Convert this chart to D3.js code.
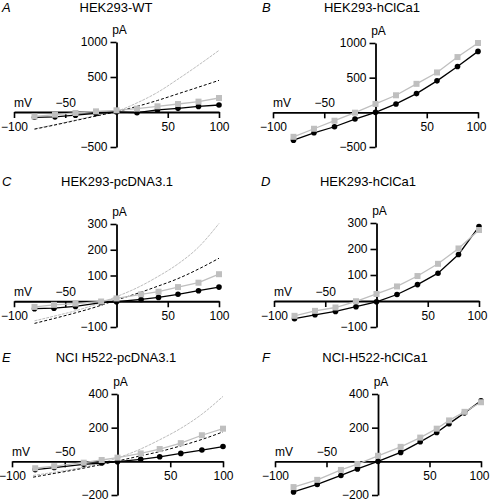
<!DOCTYPE html>
<html><head><meta charset="utf-8">
<script src="https://cdn.jsdelivr.net/npm/d3@7"></script>
<style>
html,body{margin:0;padding:0;background:#fff;}
svg{display:block;font-family:"Liberation Sans",Arial,sans-serif;}
</style></head><body>
<svg id="chart" width="492" height="503"></svg>
<script>
// ---------- data ----------
const panelLetters = ["A","B","C","D","E","F"];
const panelTitles = ["HEK293-WT","HEK293-hClCa1","HEK293-pcDNA3.1","HEK293-hClCa1","NCI H522-pcDNA3.1","NCI-H522-hClCa1"];
const xTickValues = [-100,-50,50,100];
const yTicksA = [-500,500,1000];
const yTicksB = [-500,500,1000];
const yTicksC = [-100,100,200,300];
const yTicksD = [-100,100,200,300];
const yTicksE = [-200,200,400];
const yTicksF = [-200,200,400];

// voltages (mV)
const vA = [-80,-60,-40,-20,0,20,40,60,80,100];
const vB = [-80,-60,-40,-20,0,20,40,60,80,100];
const vC = [-80,-61,-40,-15,0,24,41,60,80,100];
const vD = [-80,-60,-40,-20,0,20,40,60,80,100];
const vE = [-78,-60,-32,-15,0,22,40,60,80,100];
const vF = [-82,-59,-36,-20,0,22,41,57,69,84,100];
const vFit = [-80,-60,-40,-20,0,20,40,60,80,100];

// currents (pA): black circles / grey squares
const blackA = [-75,-69,-45,-20,0,-10,30,52,80,100];
const greyA  = [-64,-38,-14,9,24,48,81,114,148,200];
const blackB = [-401,-295,-208,-97,0,121,270,454,662,879];
const greyB  = [-353,-237,-121,-5,121,246,411,575,797,1000];
const blackC = [-29,-27,-20,-5,-2,7,15,27,41,55];
const greyC  = [-22,-14,-9,-1,11,27,37,55,72,105];
const blackD = [-68,-53,-40,-22,-3,25,63,107,179,286];
const greyD  = [-57,-38,-25,-1,27,56,96,143,202,273];
const blackE = [-49,-37,-18,-10,-2,12,27,47,67,88];
const greyE  = [-41,-29,-8,8,22,47,73,108,155,194];
const blackF = [-182,-137,-84,-45,0,53,116,171,224,288,360];
const greyF  = [-153,-110,-51,-16,33,86,141,194,243,294,351];

// fitted curves (left panels): dashed black, dotted grey
const dashedA = [-245,-185,-122,-58,5,80,165,260,355,452];
const dottedA = [-240,-180,-115,-50,10,130,280,470,670,880];
const dashedC = [-86,-66,-45,-22,5,30,58,88,125,167];
const dottedC = [-76,-57,-37,-12,18,52,95,145,210,302];
const dashedE = [-94,-72,-50,-25,2,30,58,92,130,175];
const dottedE = [-84,-65,-44,-18,20,68,128,196,280,386];

// ---------- layout ----------
const panels = [
  {x0:14, x1:219, yb:147, yt:42, dom:[-500,1000], ticks:yTicksA, titleX:116, titleY:12, letterX:2, v:vA, black:blackA, grey:greyA, dashed:dashedA, dotted:dottedA},
  {x0:273,x1:478, yb:147, yt:43, dom:[-500,1000], ticks:yTicksB, titleX:372, titleY:12, letterX:262, v:vB, black:blackB, grey:greyB},
  {x0:14, x1:219, yb:327, yt:224, dom:[-100,300], ticks:yTicksC, titleX:117, titleY:186, letterX:2, v:vC, black:blackC, grey:greyC, dashed:dashedC, dotted:dottedC},
  {x0:274,x1:479, yb:327, yt:223, dom:[-100,300], ticks:yTicksD, titleX:368, titleY:186, letterX:261, v:vD, black:blackD, grey:greyD},
  {x0:12, x1:223, yb:495, yt:394, dom:[-200,400], ticks:yTicksE, titleX:116, titleY:362, letterX:2, v:vE, black:blackE, grey:greyE, dashed:dashedE, dotted:dottedE},
  {x0:275,x1:481, yb:495, yt:394, dom:[-200,400], ticks:yTicksF, titleX:375, titleY:362, letterX:262, v:vF, black:blackF, grey:greyF}
];

const GREY = "#bfbfbf";
const svg = d3.select("#chart");
svg.append("rect").attr("width",492).attr("height",503).attr("fill","#fff");

panels.forEach((p,i)=>{
  const g = svg.append("g");
  const x = d3.scaleLinear().domain([-100,100]).range([p.x0,p.x1]);
  const y = d3.scaleLinear().domain(p.dom).range([p.yb,p.yt]);

  // letter & title
  g.append("text").attr("x",p.letterX).attr("y",p.titleY).attr("font-size",13)
    .attr("font-style","italic").text(panelLetters[i]);
  g.append("text").attr("x",p.titleX).attr("y",p.titleY).attr("font-size",13)
    .attr("text-anchor","middle").text(panelTitles[i]);

  // fits
  const fitLine = d3.line().x((d,j)=>x(vFit[j])).y(d=>y(d)).curve(d3.curveMonotoneX);
  if(p.dotted){
    g.append("path").attr("d",fitLine(p.dotted)).attr("fill","none")
      .attr("stroke","#bdbdbd").attr("stroke-width",1).attr("stroke-dasharray","3,1");
  }
  if(p.dashed){
    g.append("path").attr("d",fitLine(p.dashed)).attr("fill","none")
      .attr("stroke","#000").attr("stroke-width",1).attr("stroke-dasharray","3,2");
  }

  // x axis
  const xa = g.append("g").attr("transform",`translate(0,${y(0)})`)
    .call(d3.axisBottom(x).tickValues(xTickValues).tickSize(6).tickSizeOuter(0).tickPadding(4).tickFormat(d3.format("d")));
  // y axis
  const ya = g.append("g").attr("transform",`translate(${x(0)},0)`)
    .call(d3.axisLeft(y).tickValues(p.ticks).tickSize(6).tickSizeOuter(0).tickPadding(3).tickFormat(d3.format("d")));
  [xa,ya].forEach(a=>{
    a.attr("font-size",12).attr("font-family",null);
    a.selectAll("path.domain").attr("stroke","#000").attr("stroke-width",1.8);
    a.selectAll(".tick line").attr("stroke","#000").attr("stroke-width",1.6);
    a.selectAll(".tick text").attr("fill","#000");
  });
  xa.selectAll(".tick text").filter(d=>d===-50).attr("y",-5).attr("dy",0);
  xa.selectAll(".tick text").filter(d=>d===100 && p.x1>470).attr("text-anchor","end").attr("x",8);

  g.append("text").attr("x",p.x0).attr("y",y(0)-5).attr("font-size",12).text("mV");
  g.append("text").attr("x",x(0)+3).attr("y",p.yt-8).attr("font-size",12)
    .attr("text-anchor","middle").text("pA");

  // series
  const line = d3.line().x((d,j)=>x(p.v[j])).y(d=>y(d));
  g.append("path").attr("d",line(p.black)).attr("fill","none").attr("stroke","#000").attr("stroke-width",1.3);
  g.selectAll(".ci").data(p.black).join("circle")
    .attr("cx",(d,j)=>x(p.v[j])).attr("cy",d=>y(d)).attr("r",2.8).attr("fill","#000");
  g.append("path").attr("d",line(p.grey)).attr("fill","none").attr("stroke",GREY).attr("stroke-width",1.3);
  g.selectAll(".sq").data(p.grey).join("rect")
    .attr("x",(d,j)=>x(p.v[j])-3).attr("y",d=>y(d)-3).attr("width",6).attr("height",6).attr("fill",GREY);
});
</script>
</body></html>
